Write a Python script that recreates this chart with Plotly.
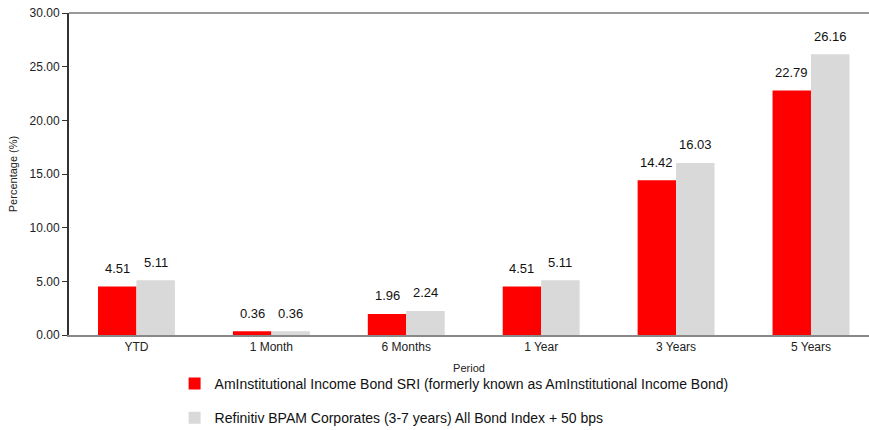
import plotly.graph_objects as go

categories = ["YTD", "1 Month", "6 Months", "1 Year", "3 Years", "5 Years"]
fund_values = [4.51, 0.36, 1.96, 4.51, 14.42, 22.79]
index_values = [5.11, 0.36, 2.24, 5.11, 16.03, 26.16]
fund_name = "AmInstitutional Income Bond SRI (formerly known as AmInstitutional Income Bond)"
index_name = "Refinitiv BPAM Corporates (3-7 years) All Bond Index + 50 bps"
y_ticks = [0, 5, 10, 15, 20, 25, 30]

FONT = "Liberation Sans, Arial, Helvetica, sans-serif"
BARGAP = 0.43

fig = go.Figure()
fig.add_trace(go.Bar(
    x=categories, y=fund_values, name=fund_name, legendgroup="a",
    marker=dict(color="#ff0000", line=dict(width=0)),
))
fig.add_trace(go.Bar(
    x=categories, y=index_values, name=index_name, legendgroup="b",
    marker=dict(color="#d9d9d9", line=dict(width=0)),
))

# value labels above each bar
half = (1 - BARGAP) / 4
annotations = []
for i, (a, b) in enumerate(zip(fund_values, index_values)):
    for off, v in ((-half, a), (half, b)):
        annotations.append(dict(
            x=i + off, y=v, xref="x", yref="y", text=f"{v:.2f}",
            showarrow=False, yanchor="middle", yshift=18,
            font=dict(size=13, color="#111111", family=FONT),
        ))

fig.update_layout(
    width=869, height=430,
    margin=dict(l=69, r=0, t=13, b=95, autoexpand=False),
    plot_bgcolor="white", paper_bgcolor="white",
    font=dict(family=FONT, size=12, color="#222222"),
    barmode="group", bargap=BARGAP, bargroupgap=0,
    legend=dict(
        orientation="v", x=0.132, xanchor="left", y=-0.102, yanchor="top",
        font=dict(size=14, color="#111111"), tracegroupgap=13,
        bgcolor="rgba(0,0,0,0)",
    ),
    xaxis=dict(
        range=[-0.5, 5.43], showline=True, linecolor="#888888", linewidth=2,
        ticks="", showgrid=False, tickfont=dict(size=12, color="#222222"),
        title=dict(text="Period", font=dict(size=11, color="#222222"), standoff=11),
        automargin=False,
    ),
    yaxis=dict(
        range=[0, 30], tickvals=y_ticks, ticktext=[f"{v:.2f}" for v in y_ticks],
        showline=True, linecolor="#333333", linewidth=2, ticks="outside",
        ticklen=5, tickcolor="#333333", showgrid=False, zeroline=False,
        tickfont=dict(size=12, color="#222222"),
        title=dict(text="Percentage (%)", font=dict(size=11, color="#222222"), standoff=10),
        automargin=False,
    ),
    annotations=annotations,
    shapes=[dict(type="line", xref="paper", yref="paper", x0=0, x1=1, y0=1, y1=1,
                 line=dict(color="#999999", width=2))],
)

fig.write_html("out.html", config={"displayModeBar": False},
               post_script="document.body.style.margin='0';")
